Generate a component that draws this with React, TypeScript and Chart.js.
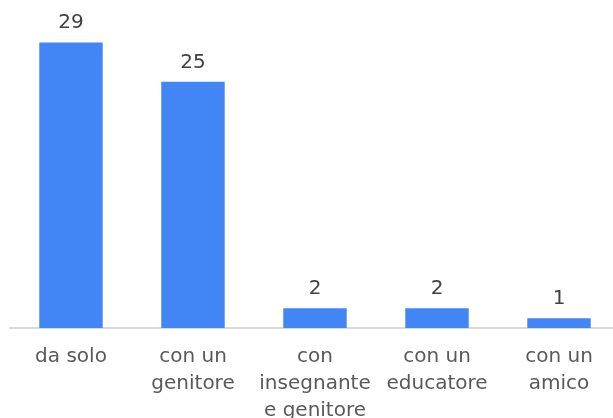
import React, { useEffect, useRef } from "react";
import { Chart, registerables } from "chart.js";

Chart.register(...registerables);

const categories: (string | string[])[] = [
  "da solo",
  ["con un", "genitore"],
  ["con", "insegnante", "e genitore"],
  ["con un", "educatore"],
  ["con un", "amico"],
];
const values: number[] = [29, 25, 2, 2, 1];

const FONT = "'DejaVu Sans', sans-serif";

const valueLabels = {
  id: "valueLabels",
  afterDatasetsDraw(chart: any) {
    const ctx = chart.ctx;
    const meta = chart.getDatasetMeta(0);
    ctx.save();
    ctx.fillStyle = "#404040";
    ctx.font = `20px ${FONT}`;
    ctx.textAlign = "center";
    ctx.textBaseline = "alphabetic";
    meta.data.forEach((bar: any, i: number) => {
      ctx.fillText(String(values[i]), bar.x, bar.y - 14);
    });
    ctx.restore();
  },
};

export default function App() {
  const ref = useRef<HTMLCanvasElement>(null);
  useEffect(() => {
    if (!ref.current) return;
    const chart = new Chart(ref.current, {
      type: "bar",
      data: {
        labels: categories,
        datasets: [
          {
            data: values,
            backgroundColor: "#4285F4",
            barPercentage: 0.52,
            categoryPercentage: 1,
          },
        ],
      },
      options: {
        animation: false,
        responsive: false,
        maintainAspectRatio: false,
        layout: { padding: { left: 10, right: 0, top: 3, bottom: -13 } },
        plugins: { legend: { display: false }, tooltip: { enabled: false } },
        scales: {
          y: { display: false, min: 0, max: 33 },
          x: {
            grid: { display: false },
            border: { display: true, color: "#d9d9d9", width: 2 },
            ticks: {
              color: "#595959",
              font: { family: FONT, size: 20, lineHeight: 1.35 },
              padding: 7,
              maxRotation: 0,
              autoSkip: false,
            },
          },
        },
      },
      plugins: [valueLabels],
    });
    return () => chart.destroy();
  }, []);
  return (
    <div style={{ position: "absolute", left: 0, top: 0, width: 613, height: 418, overflow: "hidden", background: "#fff" }}>
      <canvas ref={ref} width={620} height={418} style={{ width: 620, height: 418 }} />
    </div>
  );
}
